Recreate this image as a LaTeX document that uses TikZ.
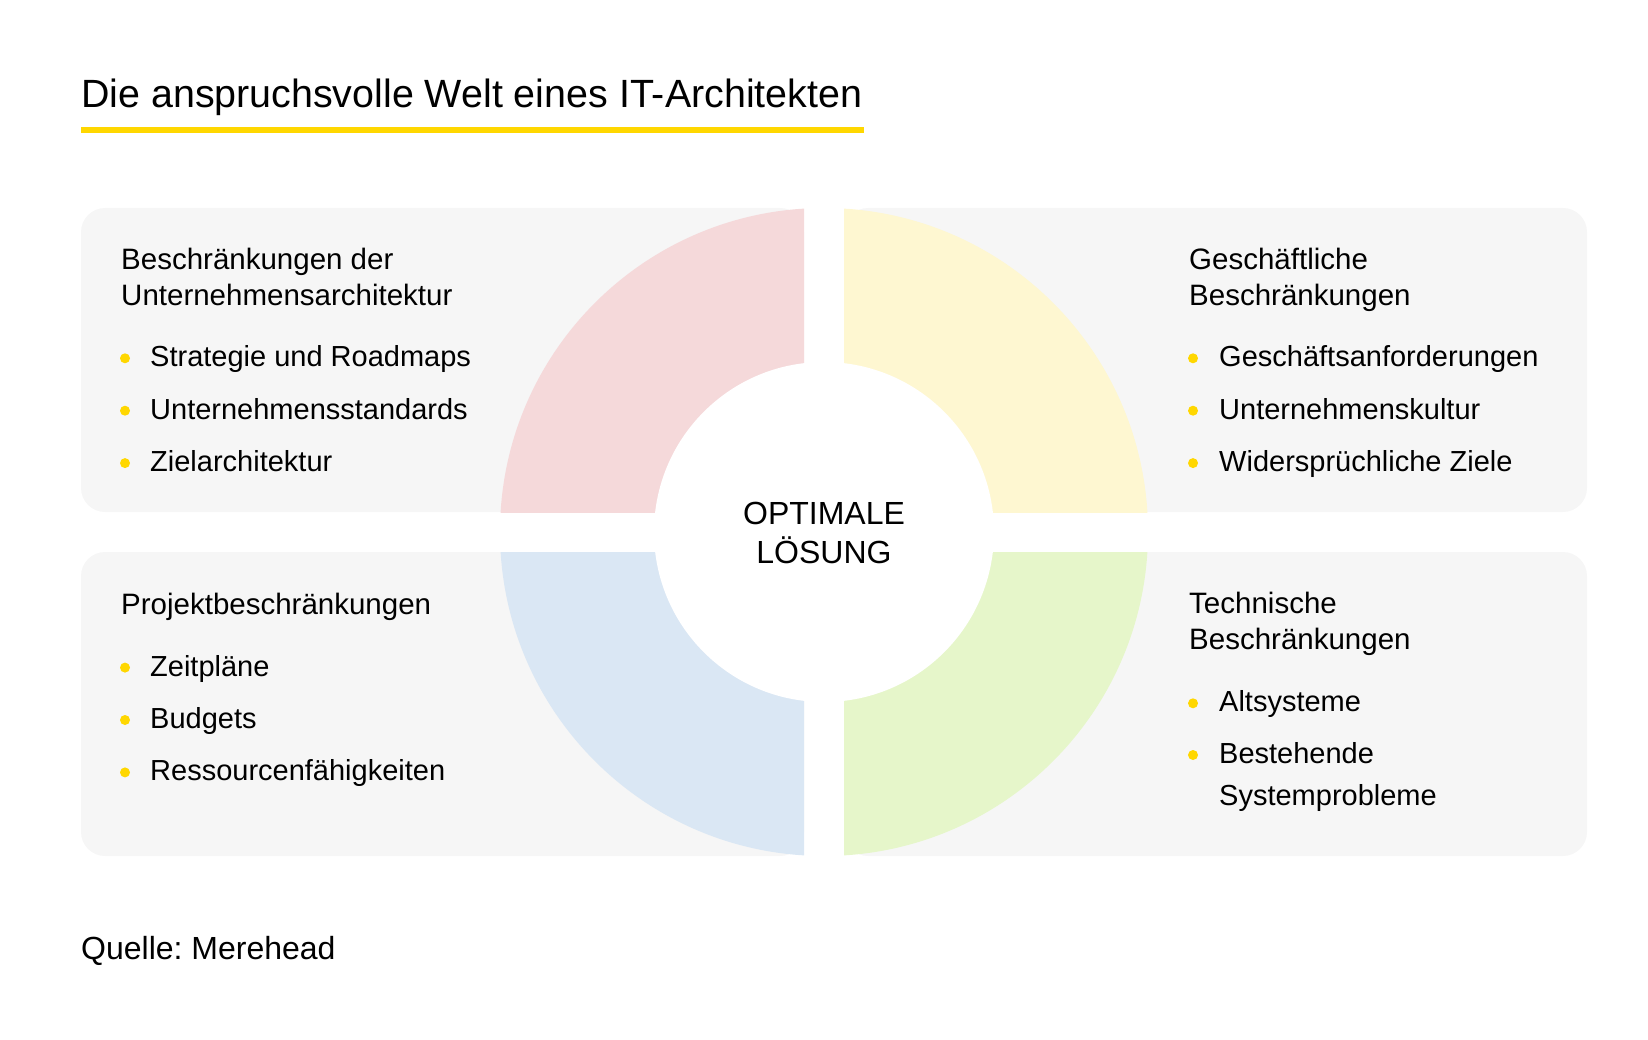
\documentclass[tikz,border=0pt]{standalone}
\usepackage{fontspec}
\setmainfont{Liberation Sans}
\usepackage{xcolor}
\definecolor{barYellow}{HTML}{FFD700}
\definecolor{panelGray}{HTML}{F6F6F6}
\definecolor{segPink}{HTML}{F5D9DA}
\definecolor{segYellow}{HTML}{FEF7D1}
\definecolor{segBlue}{HTML}{DAE7F4}
\definecolor{segGreen}{HTML}{E6F6CA}
\tikzset{
  panel/.style={fill=panelGray, rounded corners=24pt},
  heading/.style={anchor=base west, inner sep=0pt, align=left, font=\fontsize{29.5}{36}\selectfont},
  item/.style={anchor=base west, inner sep=0pt, align=left, font=\fontsize{29}{42.5}\selectfont},
  bulletdot/.style={circle, fill=barYellow, inner sep=0pt, minimum size=10pt},
}

\begin{document}
\begin{tikzpicture}[x=1pt, y=-1pt]
        \useasboundingbox (0,0) rectangle (1648,1040);
        % title
        \node[anchor=base west, inner sep=0pt, font=\fontsize{39.4}{47}\selectfont] (title) at (81,108) {Die anspruchsvolle Welt eines IT-Architekten};
        \fill[barYellow] (81,127) rectangle (864,133);
        % panels
        \fill[panel] (81,208) rectangle (804,512);
        \fill[panel] (844,208) rectangle (1587,512);
        \fill[panel] (81,552) rectangle (804,856);
        \fill[panel] (844,552) rectangle (1587,856);
        % ring segments
        \coordinate (c) at (824,532);
        \begin{scope}
          \clip (400,150) rectangle (804,512);
          \fill[segPink] (c) circle (324pt);
        \end{scope}
        \begin{scope}
          \clip (844,150) rectangle (1250,512);
          \fill[segYellow] (c) circle (324pt);
        \end{scope}
        \begin{scope}
          \clip (400,552) rectangle (804,900);
          \fill[segBlue] (c) circle (324pt);
        \end{scope}
        \begin{scope}
          \clip (844,552) rectangle (1250,900);
          \fill[segGreen] (c) circle (324pt);
        \end{scope}
        \fill[white] (c) circle (170pt);
        % base of a two-line node is its last line
        \node[align=center, inner sep=0pt, anchor=base, font=\fontsize{32}{39}\selectfont] (center) at (824,563) {OPTIMALE\\LÖSUNG};
        % top left
        \node[heading] (tlhead) at (121,306) {Beschränkungen der\\Unternehmensarchitektur};
        \foreach \txt [count=\i] in {Strategie und Roadmaps, Unternehmensstandards, Zielarchitektur} {
          \node[bulletdot] (tlb\i) at (125,{358.3+52.4*(\i-1)}) {};
          \node[item] (tl\i) at (150,{366.7+52.4*(\i-1)}) {\txt};
        }
        % top right
        \node[heading] (trhead) at (1189,306) {Geschäftliche\\Beschränkungen};
        \foreach \txt [count=\i] in {Geschäftsanforderungen, Unternehmenskultur, Widersprüchliche Ziele} {
          \node[bulletdot] (trb\i) at (1193,{358.3+52.4*(\i-1)}) {};
          \node[item] (tr\i) at (1219,{366.7+52.4*(\i-1)}) {\txt};
        }
        % bottom left
        \node[heading] (blhead) at (121,614) {Projektbeschränkungen};
        \foreach \txt [count=\i] in {Zeitpläne, Budgets, Ressourcenfähigkeiten} {
          \node[bulletdot] (blb\i) at (125,{667.6+52.4*(\i-1)}) {};
          \node[item] (bl\i) at (150,{676+52.4*(\i-1)}) {\txt};
        }
        % bottom right
        \node[heading] (brhead) at (1189,649.3) {Technische\\Beschränkungen};
        \node[bulletdot] (brb1) at (1193,703.3) {};
        \node[item] (br1) at (1219,711.7) {Altsysteme};
        \node[bulletdot] (brb2) at (1193,755) {};
        \node[item] (br2) at (1219,805.7) {Bestehende\\Systemprobleme};
        % source
        \node[anchor=base west, inner sep=0pt, font=\fontsize{32}{38}\selectfont] (source) at (81,959) {Quelle:\ Merehead};
\end{tikzpicture}
\end{document}
